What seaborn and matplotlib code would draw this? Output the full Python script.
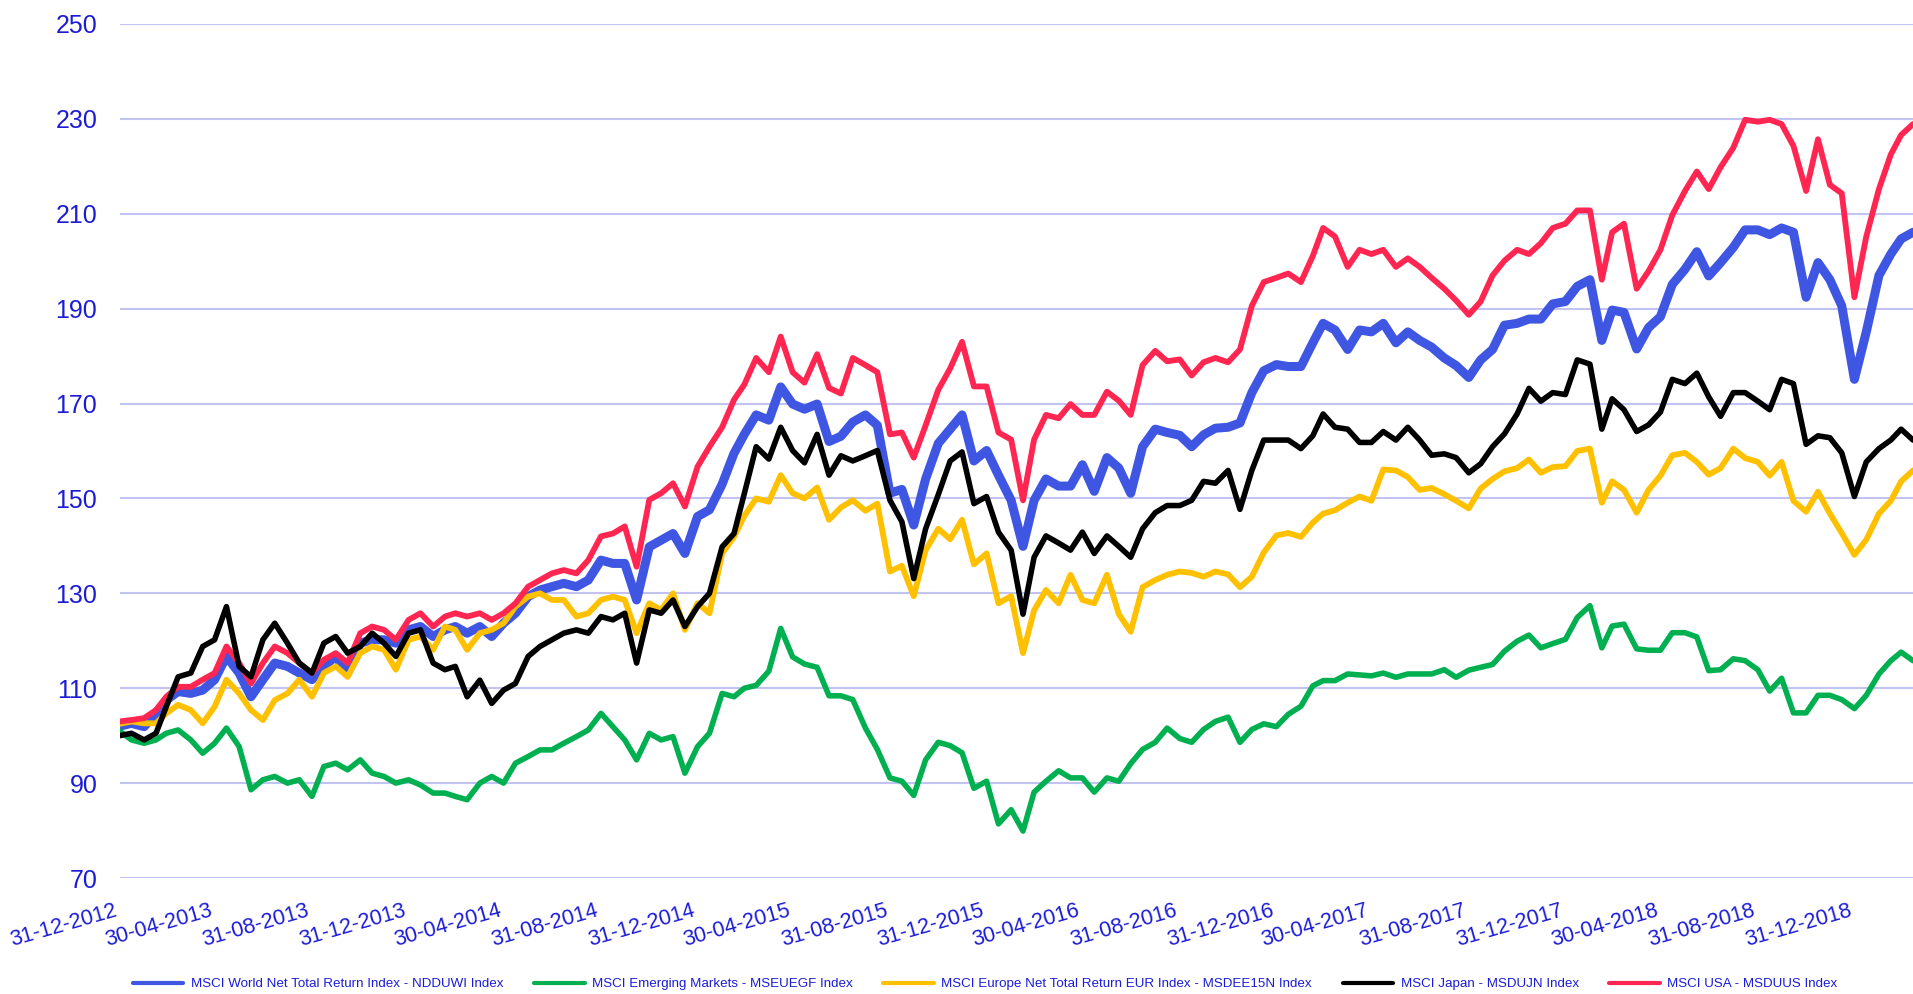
import matplotlib
matplotlib.use("Agg")
import matplotlib.pyplot as plt
from matplotlib.lines import Line2D
import pandas as pd
import seaborn as sns

# semi-monthly sampling dates: month ends (Dec 2012 - Feb 2019) and the 15th (Jan 2013 - Mar 2019)
month_ends = pd.date_range("2012-12-31", periods=75, freq=pd.offsets.MonthEnd())
mid_months = pd.date_range("2013-01-15", periods=75, freq=pd.DateOffset(months=1))
dates = month_ends.append(mid_months).sort_values()

world = [102.0, 102.6, 101.9, 104.7, 107.5, 109.3, 108.9, 109.6, 111.8, 116.7,
         113.2, 108.2, 111.8, 115.3, 114.6, 113.2, 111.8, 114.6, 116.7, 113.2,
         119.5, 120.2, 120.2, 119.5, 122.3, 123.0, 120.9, 122.3, 123.0, 121.6,
         123.0, 120.9, 123.7, 125.8, 129.3, 130.7, 131.4, 132.1, 131.4, 132.8,
         137.0, 136.3, 136.3, 128.6, 139.8, 141.2, 142.6, 138.4, 146.2, 147.6,
         153.0, 159.5, 163.5, 167.6, 166.5, 173.5, 169.9, 168.8, 169.9, 162.0,
         163.1, 166.1, 167.6, 165.4, 151.1, 151.9, 144.4, 154.1, 161.6, 164.6,
         167.6, 157.9, 160.1, 154.9, 149.6, 139.9, 149.6, 154.1, 152.6, 152.6,
         157.1, 151.5, 158.6, 156.4, 151.1, 160.9, 164.6, 163.9, 163.3, 160.9,
         163.4, 164.8, 165.0, 165.9, 172.3, 176.9, 178.2, 177.8, 177.8, 182.8,
         186.9, 185.5, 181.4, 185.5, 185.1, 186.9, 182.8, 185.1, 183.3, 181.9,
         179.6, 178.0, 175.5, 179.2, 181.4, 186.5, 186.9, 187.8, 187.8, 191.0,
         191.5, 194.7, 196.1, 183.3, 189.7, 189.2, 181.5, 186.0, 188.3, 195.1,
         198.3, 202.0, 196.9, 199.7, 202.9, 206.6, 206.6, 205.6, 207.0, 206.1,
         192.4, 199.7, 196.1, 190.6, 175.1, 185.1, 197.0, 201.5, 204.7, 206.1]

emerging = [101.0, 99.1, 98.4, 99.1, 100.5, 101.2, 99.1, 96.3, 98.4, 101.6,
            97.7, 88.6, 90.7, 91.4, 90.0, 90.7, 87.2, 93.5, 94.2, 92.8,
            94.9, 92.1, 91.4, 90.0, 90.7, 89.6, 87.9, 87.9, 87.2, 86.5,
            90.0, 91.4, 90.0, 94.2, 95.6, 97.0, 97.0, 98.4, 99.8, 101.2,
            104.7, 101.9, 99.1, 94.9, 100.5, 99.1, 99.8, 92.1, 97.7, 100.5,
            108.9, 108.2, 110.0, 110.6, 113.6, 122.6, 116.6, 115.1, 114.4, 108.4,
            108.4, 107.6, 101.6, 97.1, 91.1, 90.4, 87.4, 94.9, 98.6, 97.9,
            96.4, 88.9, 90.4, 81.4, 84.4, 79.9, 88.1, 90.4, 92.6, 91.1,
            91.1, 88.1, 91.1, 90.4, 94.1, 97.1, 98.6, 101.6, 99.4, 98.6,
            101.3, 103.0, 103.9, 98.6, 101.3, 102.5, 101.9, 104.5, 106.2, 110.5,
            111.6, 111.6, 113.0, 112.8, 112.6, 113.2, 112.3, 113.0, 113.0, 113.0,
            113.9, 112.3, 113.8, 114.4, 115.0, 117.8, 119.9, 121.2, 118.5, 119.4,
            120.3, 124.9, 127.4, 118.5, 123.1, 123.5, 118.3, 118.0, 118.0, 121.7,
            121.7, 120.8, 113.7, 113.9, 116.2, 115.8, 113.9, 109.4, 112.1, 104.8,
            104.8, 108.5, 108.5, 107.6, 105.7, 108.5, 113.0, 115.8, 117.6, 115.8]

europe = [102.5, 103.0, 102.6, 102.6, 104.7, 106.5, 105.4, 102.6, 106.1, 111.8,
          108.9, 105.4, 103.3, 107.5, 108.9, 111.8, 108.2, 113.2, 114.6, 112.4,
          117.4, 118.8, 118.1, 113.9, 120.2, 120.9, 118.1, 123.0, 122.3, 118.1,
          121.6, 122.3, 123.7, 127.2, 129.3, 130.0, 128.6, 128.6, 125.1, 125.8,
          128.6, 129.3, 128.6, 121.6, 127.9, 126.5, 130.0, 122.3, 127.9, 125.8,
          138.4, 141.9, 146.3, 150.0, 149.3, 154.9, 151.1, 150.0, 152.3, 145.5,
          148.1, 149.6, 147.4, 148.9, 134.6, 135.8, 129.4, 139.1, 143.6, 141.4,
          145.5, 136.1, 138.4, 127.9, 129.4, 117.4, 126.4, 130.7, 127.9, 133.9,
          128.6, 127.9, 133.9, 125.6, 121.9, 131.3, 132.8, 133.9, 134.6, 134.3,
          133.5, 134.6, 134.0, 131.3, 133.5, 138.6, 142.2, 142.7, 141.9, 144.9,
          146.8, 147.5, 149.1, 150.4, 149.5, 156.1, 155.9, 154.5, 151.8, 152.2,
          150.9, 149.5, 147.9, 152.1, 154.1, 155.7, 156.4, 158.2, 155.4, 156.6,
          156.8, 160.0, 160.5, 149.1, 153.6, 151.8, 147.0, 151.8, 154.8, 159.1,
          159.6, 157.7, 155.0, 156.4, 160.5, 158.5, 157.7, 154.8, 157.7, 149.5,
          147.2, 151.4, 146.8, 142.7, 138.1, 141.3, 146.8, 149.5, 153.6, 155.9]

japan = [100.0, 100.5, 99.1, 100.5, 106.1, 112.4, 113.2, 118.8, 120.2, 127.2,
         114.6, 112.4, 120.2, 123.7, 119.5, 115.3, 113.2, 119.5, 120.9, 117.4,
         118.8, 121.6, 119.5, 116.7, 121.6, 122.3, 115.3, 113.9, 114.6, 108.2,
         111.7, 106.8, 109.6, 111.0, 116.7, 118.8, 120.2, 121.6, 122.3, 121.6,
         125.1, 124.4, 125.8, 115.3, 126.5, 125.8, 128.6, 123.0, 127.2, 130.0,
         139.8, 142.6, 151.0, 160.9, 158.3, 165.0, 160.1, 157.5, 163.5, 154.9,
         159.0, 157.9, 159.0, 160.1, 149.6, 145.1, 133.1, 143.6, 150.8, 157.9,
         159.8, 148.9, 150.4, 142.9, 139.1, 125.6, 137.6, 142.1, 140.6, 139.1,
         142.9, 138.4, 142.1, 139.9, 137.6, 143.6, 147.0, 148.5, 148.5, 149.6,
         153.6, 153.2, 155.9, 147.7, 155.9, 162.3, 162.3, 162.3, 160.5, 163.2,
         167.8, 165.0, 164.6, 161.8, 161.8, 164.1, 162.3, 165.0, 162.3, 159.1,
         159.4, 158.6, 155.4, 157.3, 160.9, 163.6, 167.8, 173.2, 170.5, 172.3,
         171.9, 179.2, 178.3, 164.6, 171.0, 168.7, 164.1, 165.5, 168.2, 175.1,
         174.2, 176.4, 171.4, 167.3, 172.3, 172.3, 170.5, 168.7, 175.1, 174.2,
         161.4, 163.2, 162.8, 159.6, 150.4, 157.7, 160.5, 162.3, 164.6, 162.3]

usa = [103.0, 103.3, 103.7, 105.4, 108.2, 110.3, 110.3, 111.8, 113.2, 118.8,
       115.3, 111.0, 115.3, 118.8, 117.4, 115.3, 113.2, 116.0, 117.4, 115.3,
       121.6, 123.0, 122.3, 120.2, 124.4, 125.8, 123.0, 125.1, 125.8, 125.1,
       125.8, 124.4, 125.8, 127.9, 131.4, 132.8, 134.2, 134.9, 134.2, 137.0,
       142.0, 142.6, 144.1, 135.6, 149.7, 151.1, 153.2, 148.3, 156.7, 160.9,
       165.0, 170.8, 174.0, 179.6, 176.6, 184.1, 176.6, 174.4, 180.4, 173.3,
       172.1, 179.6, 178.1, 176.6, 163.5, 163.9, 158.6, 165.4, 172.9, 177.4,
       183.0, 173.6, 173.6, 163.9, 162.4, 149.6, 162.4, 167.6, 166.9, 169.9,
       167.6, 167.6, 172.5, 170.6, 167.6, 178.1, 181.1, 178.9, 179.3, 175.9,
       178.7, 179.6, 178.7, 181.4, 190.6, 195.6, 196.5, 197.4, 195.6, 201.1,
       207.0, 205.2, 198.8, 202.4, 201.5, 202.4, 198.8, 200.6, 198.8, 196.5,
       194.2, 191.7, 188.7, 191.5, 197.0, 200.1, 202.4, 201.5, 203.8, 207.0,
       207.9, 210.7, 210.7, 196.1, 206.1, 207.9, 194.2, 197.9, 202.4, 209.7,
       214.8, 218.9, 215.2, 219.8, 223.9, 229.8, 229.4, 229.8, 228.9, 224.3,
       214.8, 225.7, 216.1, 214.3, 192.4, 205.2, 215.2, 222.5, 226.6, 228.9]

labels = ["MSCI World Net Total Return Index - NDDUWI Index",
          "MSCI Emerging Markets - MSEUEGF Index",
          "MSCI Europe Net Total Return EUR Index - MSDEE15N Index",
          "MSCI Japan - MSDUJN Index",
          "MSCI USA - MSDUUS Index"]
colors = ["#3f56e3", "#00b050", "#ffc000", "#000000", "#ff2752"]
widths = [6.5, 4.0, 4.2, 4.0, 4.2]
zorders = [2, 3, 4, 6, 5]

text_color = "#1c1cd6"

sns.set_style("white")
plt.rcParams["font.family"] = ["Liberation Sans", "DejaVu Sans"]

fig = plt.figure(figsize=(19.13, 9.94), dpi=100)
ax = fig.add_axes([0.0625, 0.1167, 0.9375, 0.8592])

series = [world, emerging, europe, japan, usa]
for vals, col, lw, zo in zip(series, colors, widths, zorders):
    sns.lineplot(x=dates, y=vals, ax=ax, color=col, linewidth=lw,
                 legend=False, zorder=zo)

ax.set_xlim(dates[0], dates[-1])
ax.set_ylim(70, 250)
ax.set_yticks(range(70, 251, 20))
ax.grid(axis="y", color="#c3c3f2", linewidth=1.5)
ax.grid(axis="x", visible=False)
ax.set_axisbelow(True)
for s in ax.spines.values():
    s.set_visible(False)

tick_dates = pd.date_range("2012-12-31", "2018-12-31", freq=pd.offsets.MonthEnd(4))
ax.set_xticks(tick_dates)
ax.set_xticklabels([d.strftime("%d-%m-%Y") for d in tick_dates],
                   rotation=16, ha="right", va="top")
ax.tick_params(axis="x", length=0, pad=16, labelsize=15.5, labelcolor=text_color)
ax.tick_params(axis="y", length=0, pad=16, labelsize=18, labelcolor=text_color)
ax.set_xlabel("")
ax.set_ylabel("")

handles = [Line2D([], [], color=c, linewidth=3) for c in colors]
fig.legend(handles, labels, loc="center", bbox_to_anchor=(0.515, 0.010),
           ncol=5, frameon=False, fontsize=9.6, handlelength=3.8,
           handletextpad=0.55, columnspacing=2.3, labelcolor=text_color)

fig.savefig("out.png", dpi=100)
